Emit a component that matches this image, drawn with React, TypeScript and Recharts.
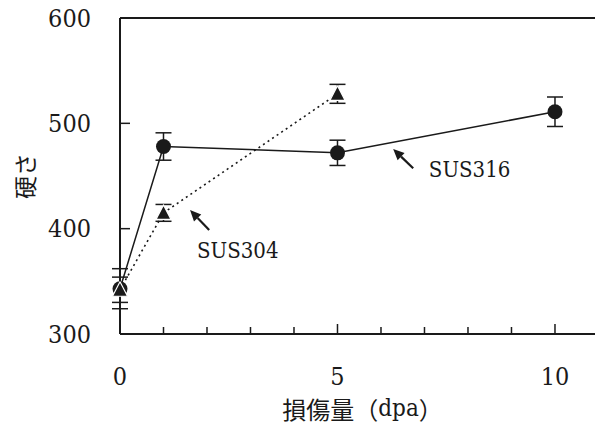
import React from 'react';
import { LineChart, Line, XAxis, YAxis, ErrorBar, ReferenceLine, ReferenceDot } from 'recharts';

// SUS316 (circles, solid line)
const dpa316 = [0, 1, 5, 10];
const hard316 = [343, 478, 472, 511];
const err316 = [19, 13, 12, 14];

// SUS304 (triangles, dotted line)
const dpa304 = [0, 1, 5];
const hard304 = [342, 415, 528];
const err304 = [12, 8, 9];

const xTicks = [0, 1, 2, 3, 4, 5, 6, 7, 8, 9, 10];
const xLabels = [0, 5, 10];
const yTicks = [300, 400, 500, 600];

const ink = '#1a1a1a';
const serif = '"DejaVu Serif Condensed", "DejaVu Serif", serif';
const cjk = '"Noto Sans CJK JP", sans-serif';

const data316 = dpa316.map((x, i) => ({ x, y: hard316[i], err: err316[i] }));
const data304 = dpa304.map((x, i) => ({ x, y: hard304[i], err: err304[i] }));

const XTick = (props: any) => {
    const { x, y, payload } = props;
    const v = payload.value;
    const major = xLabels.includes(v);
    return (
        <g>
            <line x1={x} x2={x} y1={y} y2={y - (major ? 10 : 7)} stroke={ink} strokeWidth={1.5} />
            {major && (
                <text x={x} y={y + 42} textAnchor="middle" dominantBaseline="central"
                    style={{ fontFamily: serif, fontSize: 25 }} fill={ink}>
                    {v}
                </text>
            )}
        </g>
    );
};

const YTick = (props: any) => {
    const { x, y, payload } = props;
    return (
        <g>
            <line x1={x} x2={x + 10} y1={y} y2={y} stroke={ink} strokeWidth={1.5} />
            <text x={x - 29} y={y} textAnchor="end" dominantBaseline="central"
                style={{ fontFamily: serif, fontSize: 25 }} fill={ink}>
                {payload.value}
            </text>
        </g>
    );
};

const XLabel = (props: any) => {
    const { x, y, width } = props.viewBox;
    return (
        <text x={x + width / 2 + 5} y={y + 74} textAnchor="middle" dominantBaseline="central"
            style={{ fontFamily: cjk, fontSize: 24 }} fill={ink}>
            損傷量（<tspan style={{ fontFamily: serif }}>dpa</tspan>）
        </text>
    );
};

const YLabel = (props: any) => {
    const { y, height } = props.viewBox;
    const cx = 24;
    const cy = y + height / 2;
    return (
        <text x={cx} y={cy} transform={`rotate(-90 ${cx} ${cy})`} textAnchor="middle"
            dominantBaseline="central" style={{ fontFamily: cjk, fontSize: 23 }} fill={ink}>
            硬さ
        </text>
    );
};

const Circle = (props: any) => {
    const { cx, cy, index } = props;
    return <circle key={`c${index}`} cx={cx} cy={cy} r={7.5} fill={ink} />;
};

const Triangle = (props: any) => {
    const { cx, cy, index } = props;
    return (
        <polygon key={`t${index}`}
            points={`${cx},${cy - 8} ${cx - 7.5},${cy + 6.5} ${cx + 7.5},${cy + 6.5}`}
            fill={ink} stroke="#fff" strokeWidth={1.2} strokeLinejoin="round" />
    );
};

// arrow drawn from tail (x2,y2) to tip (x1,y1)
const Arrow = (props: any) => {
    const { x1, y1, x2, y2 } = props;
    const dx = x1 - x2;
    const dy = y1 - y2;
    const len = Math.sqrt(dx * dx + dy * dy);
    const ux = dx / len;
    const uy = dy / len;
    const bx = x1 - ux * 11;
    const by = y1 - uy * 11;
    const px = -uy * 5;
    const py = ux * 5;
    return (
        <g>
            <line x1={x2} y1={y2} x2={bx} y2={by} stroke={ink} strokeWidth={2.2} />
            <polygon points={`${x1},${y1} ${bx + px},${by + py} ${bx - px},${by - py}`} fill={ink} />
        </g>
    );
};

const Label = (text: string) => (props: any) => (
    <text x={props.cx} y={props.cy} dominantBaseline="central"
        style={{ fontFamily: serif, fontSize: 22 }} fill={ink}>
        {text}
    </text>
);

export default function App() {
    return (
        <div style={{ width: 595, height: 425 }}>
            <style>{'body{margin:0}'}</style>
            <LineChart width={595} height={425} margin={{ top: 18, right: 0, bottom: 0, left: 0 }}>
                <XAxis
                    type="number"
                    dataKey="x"
                    domain={[0, 10.92]}
                    ticks={xTicks}
                    interval={0}
                    height={91}
                    tickSize={0}
                    tickMargin={0}
                    tickLine={false}
                    axisLine={{ stroke: ink, strokeWidth: 2 }}
                    tick={<XTick />}
                    label={<XLabel />}
                />
                <YAxis
                    type="number"
                    domain={[300, 600]}
                    ticks={yTicks}
                    interval={0}
                    width={120}
                    tickSize={0}
                    tickMargin={0}
                    tickLine={false}
                    axisLine={{ stroke: ink, strokeWidth: 2 }}
                    tick={<YTick />}
                    label={<YLabel />}
                />
                <ReferenceLine y={600} stroke={ink} strokeWidth={2} />
                <ReferenceLine
                    segment={[{ x: 1.61, y: 417.7 }, { x: 2.05, y: 398.7 }]}
                    shape={<Arrow />}
                />
                <ReferenceLine
                    segment={[{ x: 6.28, y: 475.6 }, { x: 6.74, y: 457.3 }]}
                    shape={<Arrow />}
                />
                <ReferenceDot x={1.77} y={379} r={0} shape={Label('SUS304')} />
                <ReferenceDot x={7.1} y={456} r={0} shape={Label('SUS316')} />
                <Line
                    data={data316}
                    dataKey="y"
                    stroke={ink}
                    strokeWidth={1.5}
                    dot={Circle}
                    activeDot={false}
                    isAnimationActive={false}
                >
                    <ErrorBar dataKey="err" direction="y" width={8} stroke={ink} strokeWidth={1.5}
                        isAnimationActive={false} />
                </Line>
                <Line
                    data={data304}
                    dataKey="y"
                    stroke={ink}
                    strokeWidth={1.6}
                    strokeDasharray="2 3.5"
                    dot={Triangle}
                    activeDot={false}
                    isAnimationActive={false}
                >
                    <ErrorBar dataKey="err" direction="y" width={8} stroke={ink} strokeWidth={1.5}
                        isAnimationActive={false} />
                </Line>
            </LineChart>
        </div>
    );
}
